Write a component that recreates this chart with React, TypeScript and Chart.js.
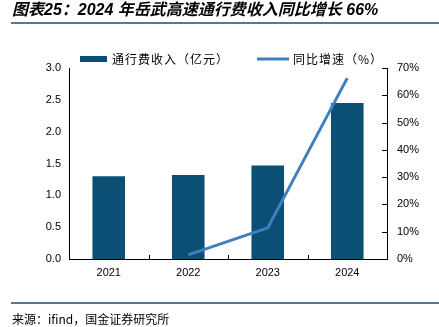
import React, { useEffect, useRef } from "react";
import { Chart, registerables } from "chart.js";

Chart.register(...registerables);

const TITLE = "图表25：2024 年岳武高速通行费收入同比增长 66%";
const SOURCE = "来源：ifind，国金证券研究所";
const categories = ["2021", "2022", "2023", "2024"];
const revenue = [1.3, 1.32, 1.47, 2.45];
const yoyGrowth = [null, 1.5, 11.4, 66.3];
const revenueLabel = "通行费收入（亿元）";
const growthLabel = "同比增速（%）";

const BAR_COLOR = "#0b4f74";
const LINE_COLOR = "#3f7fc2";
const RULE_COLOR = "#4e7b9a";
const TICK_FONT = "'Liberation Sans', Arial, sans-serif";
const CJK_FONT = "'Noto Sans CJK SC', sans-serif";

const decorPlugin = {
  id: "decor",
  afterDraw(chart: any) {
    const ctx = chart.ctx as CanvasRenderingContext2D;
    const area = chart.chartArea;
    ctx.save();
    // title
    ctx.fillStyle = "#000";
    ctx.textBaseline = "middle";
    ctx.textAlign = "left";
    ctx.font = `italic bold 16px 'Liberation Sans', ${CJK_FONT}`;
    ctx.fillText(TITLE, 12, 11);
    // rules
    ctx.strokeStyle = RULE_COLOR;
    ctx.lineWidth = 2;
    ctx.beginPath();
    ctx.moveTo(11, 23);
    ctx.lineTo(439, 23);
    ctx.moveTo(11, 303);
    ctx.lineTo(439, 303);
    ctx.stroke();
    // source
    ctx.font = `12px ${CJK_FONT}`;
    ctx.fillStyle = "#000";
    ctx.fillText(SOURCE, 12, 319);

    // legend
    const ds = chart.data.datasets;
    ctx.font = `12px ${CJK_FONT}`;
    (ctx as any).letterSpacing = "1px";
    ctx.fillStyle = ds[0].backgroundColor;
    ctx.fillRect(80, 56, 27, 6);
    ctx.fillStyle = "#000";
    ctx.fillText(ds[0].label, 112, 59);
    ctx.strokeStyle = ds[1].borderColor;
    ctx.lineWidth = 3;
    ctx.beginPath();
    ctx.moveTo(257, 59);
    ctx.lineTo(289, 59);
    ctx.stroke();
    ctx.fillStyle = "#000";
    ctx.fillText(ds[1].label, 293, 59);
    (ctx as any).letterSpacing = "0px";

    // inner tick marks
    ctx.strokeStyle = "#000";
    ctx.lineWidth = 1;
    ctx.beginPath();
    const y1 = chart.scales.y1;
    y1.ticks.forEach((t: any) => {
      const py = Math.round(y1.getPixelForValue(t.value)) + 0.5;
      ctx.moveTo(area.right - 5, py);
      ctx.lineTo(area.right, py);
    });
    const n = categories.length;
    const w = (area.right - area.left) / n;
    for (let i = 1; i < n; i++) {
      const px = Math.round(area.left + i * w) + 0.5;
      ctx.moveTo(px, area.bottom);
      ctx.lineTo(px, area.bottom - 4);
    }
    ctx.stroke();
    ctx.restore();
  },
};

export default function App() {
  const ref = useRef<HTMLCanvasElement>(null);
  useEffect(() => {
    if (!ref.current) return;
    const chart = new Chart(ref.current, {
      type: "bar",
      data: {
        labels: categories,
        datasets: [
          {
            type: "bar",
            label: revenueLabel,
            data: revenue,
            backgroundColor: BAR_COLOR,
            borderWidth: 0,
            barPercentage: 0.41,
            categoryPercentage: 1,
            yAxisID: "y",
            order: 2,
          },
          {
            type: "line",
            label: growthLabel,
            data: yoyGrowth as any,
            borderColor: LINE_COLOR,
            backgroundColor: LINE_COLOR,
            borderWidth: 3,
            pointRadius: 0,
            tension: 0,
            yAxisID: "y1",
            order: 1,
          },
        ],
      },
      options: {
        responsive: false,
        animation: false,
        devicePixelRatio: 1,
        layout: { padding: { top: 68, left: 0, right: 0, bottom: 0 } },
        plugins: {
          legend: { display: false },
          title: { display: false },
          tooltip: { enabled: false },
        },
        scales: {
          x: {
            offset: true,
            grid: { display: false, drawTicks: false },
            border: { display: true, color: "#000", width: 1 },
            ticks: {
              padding: 7,
              color: "#000",
              font: { family: TICK_FONT, size: 11 },
              maxRotation: 0,
            },
            afterFit: (s: any) => {
              s.height = 68;
            },
          },
          y: {
            position: "left",
            min: 0,
            max: 3,
            grid: { display: false, drawTicks: false },
            border: { display: true, color: "#000", width: 1 },
            ticks: {
              stepSize: 0.5,
              padding: 8,
              color: "#000",
              font: { family: TICK_FONT, size: 11 },
              callback: (v: any) => Number(v).toFixed(1),
            },
            afterFit: (s: any) => {
              s.width = 69;
            },
          },
          y1: {
            position: "right",
            min: 0,
            max: 70,
            grid: { display: false, drawTicks: false },
            border: { display: true, color: "#000", width: 1 },
            ticks: {
              stepSize: 10,
              padding: 10,
              color: "#000",
              font: { family: TICK_FONT, size: 11 },
              callback: (v: any) => `${v}%`,
            },
            afterFit: (s: any) => {
              s.width = 52;
            },
          },
        },
      },
      plugins: [decorPlugin],
    });
    return () => chart.destroy();
  }, []);
  return (
    <canvas
      ref={ref}
      width={439}
      height={327}
      style={{ position: "absolute", left: 0, top: 0, width: 439, height: 327 }}
    />
  );
}
